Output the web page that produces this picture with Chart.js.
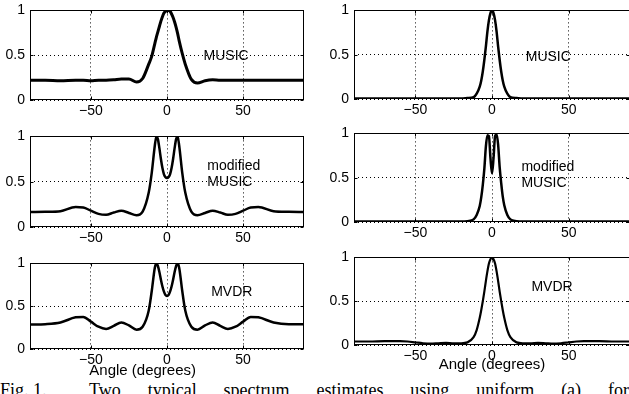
<!DOCTYPE html>
<html>
<head>
<meta charset="utf-8">
<script src="https://cdn.jsdelivr.net/npm/chart.js@4/dist/chart.umd.min.js"></script>
<style>
  html, body { margin: 0; padding: 0; background: #fff; }
  body { width: 629px; height: 394px; overflow: hidden; position: relative; }
  .panel { position: absolute; }
  .panel canvas { display: block; }
  .caption {
    position: absolute; left: 0; top: 381px; width: 629px;
    font: 18px/18px "Liberation Serif", serif; color: #000;
    text-align: justify; text-align-last: justify;
  }
  .caption .fig { display: inline-block; margin-right: 16px; }
</style>
</head>
<body>
<div class="caption"><span class="fig">Fig. 1.</span> Two typical spectrum estimates using uniform (a) for</div>
<script>
// angle grid (degrees), finer near the main lobe
const angles = [-90, -80, -70, -60, -55, -50, -45, -40, -35, -30, -25, -20, -16, -12, -10, -8, -7, -6, -5, -4, -3, -2, -1,
  0, 1, 2, 3, 4, 5, 6, 7, 8, 10, 12, 16, 20, 25, 30, 35, 40, 45, 50, 55, 60, 70, 80, 90]

// left column
const musicLeft = [0.22, 0.22, 0.215, 0.22, 0.22, 0.215, 0.22, 0.22, 0.225, 0.235, 0.235, 0.20, 0.24, 0.40, 0.49, 0.63, 0.70, 0.76, 0.82, 0.88, 0.93, 0.97, 0.99,
  1.0, 1.0, 0.99, 0.96, 0.92, 0.87, 0.81, 0.74, 0.66, 0.52, 0.40, 0.23, 0.19, 0.215, 0.225, 0.22, 0.22, 0.22, 0.22, 0.22, 0.22, 0.22, 0.22, 0.22]
const modMusicLeft = [0.165, 0.168, 0.175, 0.22, 0.215, 0.18, 0.145, 0.135, 0.16, 0.18, 0.155, 0.13, 0.17, 0.38, 0.60, 0.90, 1.0, 0.97, 0.87, 0.75, 0.65, 0.58, 0.55,
  0.54, 0.55, 0.58, 0.65, 0.75, 0.87, 0.97, 1.0, 0.90, 0.60, 0.38, 0.17, 0.13, 0.155, 0.18, 0.16, 0.135, 0.145, 0.18, 0.215, 0.22, 0.175, 0.168, 0.165]
const mvdrLeft = [0.285, 0.29, 0.31, 0.37, 0.375, 0.32, 0.26, 0.235, 0.27, 0.31, 0.275, 0.225, 0.26, 0.45, 0.68, 0.95, 1.0, 0.97, 0.90, 0.81, 0.73, 0.67, 0.63,
  0.62, 0.63, 0.67, 0.73, 0.81, 0.90, 0.97, 1.0, 0.95, 0.68, 0.45, 0.26, 0.225, 0.275, 0.31, 0.27, 0.235, 0.26, 0.32, 0.375, 0.37, 0.31, 0.29, 0.29]

// right column
const musicRight = [0.005, 0.005, 0.005, 0.005, 0.005, 0.005, 0.005, 0.005, 0.005, 0.005, 0.005, 0.005, 0.01, 0.02, 0.06, 0.14, 0.21, 0.31, 0.44, 0.59, 0.76, 0.89, 0.97,
  1.0, 0.97, 0.89, 0.76, 0.59, 0.44, 0.31, 0.21, 0.14, 0.06, 0.02, 0.01, 0.005, 0.005, 0.005, 0.005, 0.005, 0.005, 0.005, 0.005, 0.005, 0.005, 0.005, 0.005]
const modMusicRight = [0.005, 0.005, 0.005, 0.005, 0.005, 0.005, 0.005, 0.005, 0.005, 0.005, 0.005, 0.005, 0.01, 0.03, 0.08, 0.18, 0.28, 0.42, 0.60, 0.85, 0.98, 0.97, 0.72,
  0.55, 0.72, 0.97, 0.99, 0.87, 0.62, 0.44, 0.29, 0.19, 0.08, 0.03, 0.01, 0.005, 0.005, 0.005, 0.005, 0.005, 0.005, 0.005, 0.005, 0.005, 0.005, 0.005, 0.005]
const mvdrRight = [0.04, 0.04, 0.045, 0.045, 0.04, 0.03, 0.02, 0.015, 0.02, 0.025, 0.02, 0.02, 0.03, 0.09, 0.17, 0.31, 0.40, 0.50, 0.61, 0.73, 0.84, 0.93, 0.98,
  1.0, 0.98, 0.93, 0.84, 0.73, 0.61, 0.50, 0.40, 0.31, 0.17, 0.09, 0.03, 0.02, 0.02, 0.025, 0.02, 0.015, 0.02, 0.03, 0.04, 0.045, 0.045, 0.04, 0.04]

const xTicks = [-50, 0, 50]
const yTicks = [0, 0.5, 1]
const xTitle = 'Angle (degrees)'

const FONT = 'Liberation Sans, Arial, sans-serif'

// plot-area rectangles in page pixels
const panels = [
  { values: musicLeft, left: 30, top: 10, w: 274, h: 90, lw: 3, note: ['MUSIC'], noteAt: [24, 0.49] },
  { values: modMusicLeft, left: 30, top: 136, w: 274, h: 91, lw: 2.5, note: ['modified', 'MUSIC'], noteAt: [26.5, 0.67] },
  { values: mvdrLeft, left: 30, top: 263, w: 274, h: 86, lw: 2.5, note: ['MVDR'], noteAt: [29, 0.67], title: { at: -16, dy: 22 }, xh: 32 },
  { values: musicRight, left: 354, top: 10, w: 276, h: 89, lw: 2.5, note: ['MUSIC'], noteAt: [22, 0.475] },
  { values: modMusicRight, left: 354, top: 133, w: 276, h: 89, lw: 2.5, note: ['modified', 'MUSIC'], noteAt: [19.2, 0.62] },
  { values: mvdrRight, left: 354, top: 257, w: 276, h: 88, lw: 2.2, note: ['MVDR'], noteAt: [25.7, 0.665], title: { at: 0, dy: 19.5 }, xh: 30 }
]

// box around the axes, small inward ticks, the method label and the x label
const frame = {
  id: 'frame',
  beforeDatasetsDraw(chart) {
    const { ctx, chartArea: a, scales: { x, y } } = chart
    const l = Math.round(a.left) + 0.5, r = Math.round(a.right) - 0.5
    const t = Math.round(a.top) + 0.5, b = Math.round(a.bottom) - 0.5
    ctx.save()
    ctx.strokeStyle = '#000'
    ctx.lineWidth = 1
    ctx.strokeRect(l, t, r - l, b - t)
    ctx.beginPath()
    x.ticks.forEach(tk => {
      const px = Math.round(x.getPixelForValue(tk.value)) + 0.5
      ctx.moveTo(px, b); ctx.lineTo(px, b - 3)
      ctx.moveTo(px, t); ctx.lineTo(px, t + 3)
    })
    y.ticks.forEach(tk => {
      const py = Math.round(y.getPixelForValue(tk.value)) + 0.5
      ctx.moveTo(l, py); ctx.lineTo(l + 3, py)
      ctx.moveTo(r, py); ctx.lineTo(r - 3, py)
    })
    ctx.stroke()
    ctx.restore()
  },
  afterDatasetsDraw(chart, args, opts) {
    const { ctx, chartArea: a, scales: { x, y } } = chart
    ctx.save()
    ctx.fillStyle = '#000'
    ctx.font = '14px ' + FONT
    ctx.textAlign = 'left'
    ctx.textBaseline = 'middle'
    const px = x.getPixelForValue(opts.at[0])
    const py = y.getPixelForValue(opts.at[1])
    opts.note.forEach((line, i) => ctx.fillText(line, px, py + i * 15.7))
    if (opts.title) {
      ctx.font = '15px ' + FONT
      ctx.textAlign = 'center'
      ctx.fillText(xTitle, x.getPixelForValue(opts.title.at), a.bottom + opts.title.dy)
    }
    ctx.restore()
  }
}

function makeChart(cv, p, xh) {
  return new Chart(cv, {
    type: 'line',
    data: {
      datasets: [{
        data: angles.map((a, i) => ({ x: a, y: p.values[i] })),
        borderColor: '#000',
        borderWidth: p.lw,
        pointRadius: 0,
        cubicInterpolationMode: 'monotone',
        fill: false
      }]
    },
    options: {
      responsive: false,
      animation: false,
      events: [],
      layout: { padding: { top: 8, right: 8, left: 0, bottom: 0 } },
      plugins: {
        legend: { display: false },
        tooltip: { enabled: false },
        frame: { note: p.note, at: p.noteAt, title: p.title || null }
      },
      scales: {
        x: {
          type: 'linear', min: -90, max: 90,
          afterBuildTicks: s => { s.ticks = xTicks.map(v => ({ value: v })) },
          afterFit: s => { s.height = xh },
          grid: { color: '#000', lineWidth: 1, drawTicks: false },
          border: { display: false, dash: [1, 3] },
          ticks: {
            padding: 3, color: '#000', font: { family: FONT, size: 14 },
            callback: v => v < 0 ? '\u2212' + Math.abs(v) : String(v)
          }
        },
        y: {
          type: 'linear', min: 0, max: 1,
          afterBuildTicks: s => { s.ticks = yTicks.map(v => ({ value: v })) },
          afterFit: s => { s.width = 30 },
          grid: { color: '#000', lineWidth: 1, drawTicks: false },
          border: { display: false, dash: [1, 3] },
          ticks: { padding: 5, color: '#000', font: { family: FONT, size: 14 }, callback: v => String(v) }
        }
      }
    },
    plugins: [frame]
  })
}

panels.forEach(p => {
  const xh = p.xh || 22
  let W = p.w + 38, H = p.h + 8 + xh
  const div = document.createElement('div')
  div.className = 'panel'
  const cv = document.createElement('canvas')
  div.appendChild(cv)
  document.body.appendChild(div)

  // first pass: measure where the plot area lands, then size the canvas so it matches
  cv.width = W; cv.height = H
  let ch = makeChart(cv, p, xh)
  let a = ch.chartArea
  W += p.w - (a.right - a.left)
  H += p.h - (a.bottom - a.top)
  ch.destroy()
  cv.width = W; cv.height = H
  ch = makeChart(cv, p, xh)
  a = ch.chartArea
  div.style.left = (p.left - a.left) + 'px'
  div.style.top = (p.top - a.top) + 'px'
  div.style.width = W + 'px'
  div.style.height = H + 'px'
})
</script>
</body>
</html>
